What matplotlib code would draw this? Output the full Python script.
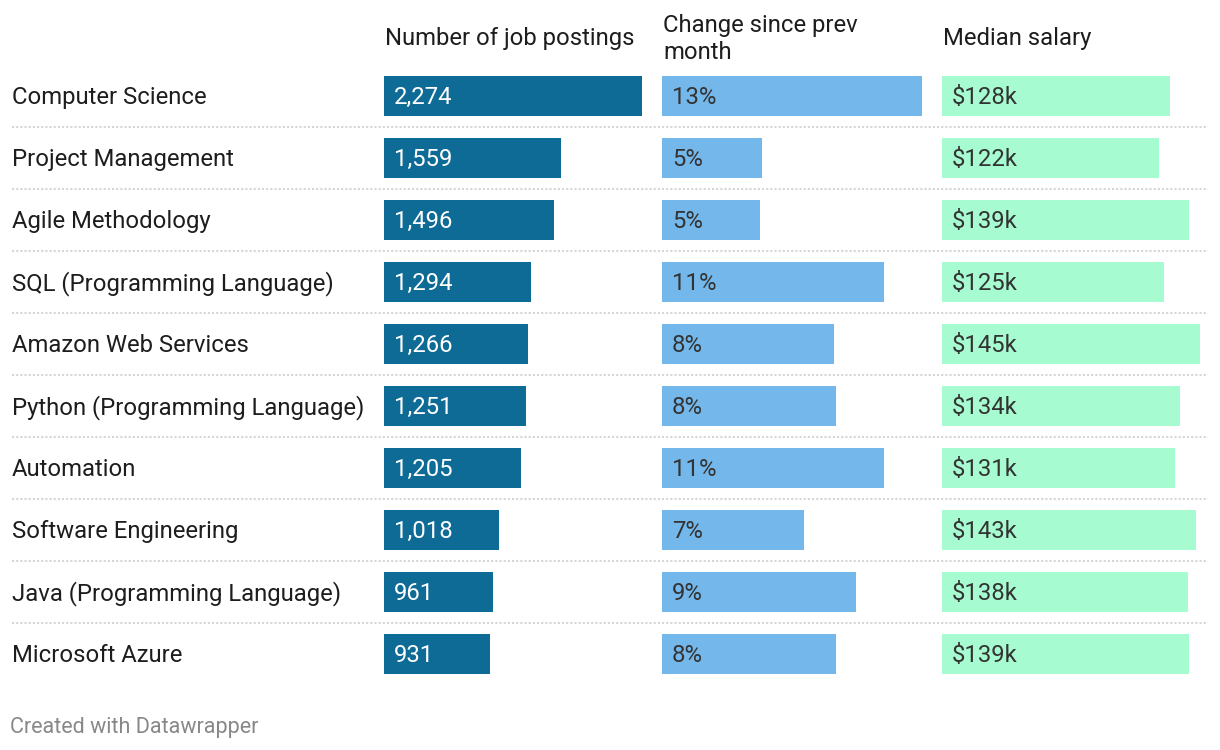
import matplotlib
matplotlib.use('Agg')
import matplotlib.pyplot as plt

skills = ["Computer Science", "Project Management", "Agile Methodology",
          "SQL (Programming Language)", "Amazon Web Services",
          "Python (Programming Language)", "Automation", "Software Engineering",
          "Java (Programming Language)", "Microsoft Azure"]
postings = [2274, 1559, 1496, 1294, 1266, 1251, 1205, 1018, 961, 931]
# bar lengths, shown labels are rounded down
change_pct = [13.0, 5.0, 4.9, 11.1, 8.6, 8.7, 11.1, 7.1, 9.7, 8.7]
change_labels = ["13%", "5%", "5%", "11%", "8%", "8%", "11%", "7%", "9%", "8%"]
salary_k = [128, 122, 139, 125, 145, 134, 131, 143, 138, 139]

headers = ["Number of job postings", "Change since prev\nmonth", "Median salary"]

W, H = 1220, 750
plt.rcParams['font.family'] = ['Roboto', 'DejaVu Sans']
fig = plt.figure(figsize=(W / 100, H / 100), dpi=100)
fig.patch.set_facecolor('white')

n = len(skills)
row_h = 62
top = 65  # pixel y of top of first row
fs = 17.2
dy = 1.5 / row_h  # nudge text down a little


def px_axes(x0, width):
    # axes in pixel coordinates covering all rows
    return fig.add_axes([x0 / W, 1 - (top + n * row_h) / H, width / W, n * row_h / H])


# background axes for labels and separators
bg = px_axes(0, W)
bg.set_xlim(0, W)
bg.set_ylim(n - 0.5, -0.5)
bg.axis('off')
for i, s in enumerate(skills):
    bg.text(12, i + dy, s, ha='left', va='center', fontsize=fs, color='#1d1d1d')
for i in range(n - 1):
    bg.plot([12, 1208], [i + 0.5, i + 0.5], color='#d6d6d6', lw=1.5,
            linestyle=(0, (1, 1)), zorder=1)

cols = [
    (384, 258, postings, 2274, '#0e6b96', 'white', [f"{v:,}" for v in postings]),
    (662, 260, change_pct, 13.0, '#74b8eb', '#333333', change_labels),
    (942, 258, salary_k, 145, '#a6fcd0', '#333333', [f"${v}k" for v in salary_k]),
]

for (x0, width, vals, vmax, color, tcolor, labels), head in zip(cols, headers):
    ax = px_axes(x0, width)
    ax.set_xlim(0, vmax)
    ax.set_ylim(n - 0.5, -0.5)
    ax.axis('off')
    ax.barh(range(n), vals, height=40 / row_h, color=color, zorder=2)
    pad = vmax * 10 / width
    for i, lab in enumerate(labels):
        ax.text(pad, i + dy, lab, ha='left', va='center', fontsize=fs,
                color=tcolor, zorder=3)
    fig.text((x0 + 1) / W, 1 - 39 / H, head, ha='left', va='center',
             fontsize=fs, color='#1d1d1d', linespacing=1.2)

fig.text(10 / W, 1 - 728 / H, "Created with Datawrapper", ha='left', va='center',
         fontsize=15.5, color='#888888')

fig.savefig('out.png', dpi=100)
